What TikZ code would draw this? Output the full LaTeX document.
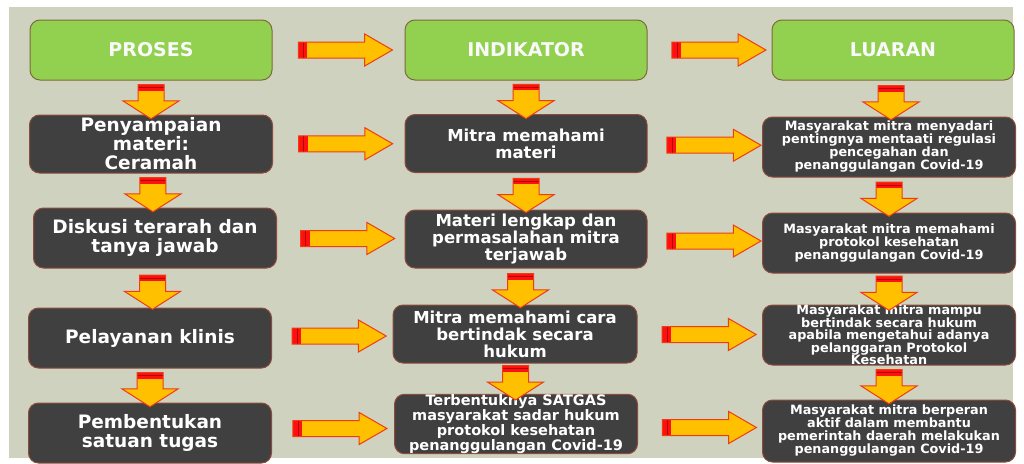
\documentclass[tikz,border=0pt]{standalone}
\usepackage{fontspec}
\setmainfont{DejaVu Sans}
\usetikzlibrary{shapes.arrows}

\definecolor{bgcol}{HTML}{CED2BE}
\definecolor{headgreen}{HTML}{92D050}
\definecolor{headline}{HTML}{7F6A3C}
\definecolor{boxgray}{HTML}{404040}
\definecolor{boxline}{HTML}{8E4B3B}
\definecolor{arrfill}{HTML}{FFC000}
\definecolor{arrline}{HTML}{F03C14}
\definecolor{arrtail}{HTML}{FF1010}

\tikzset{
	head/.style={draw=headline, line width=1pt, fill=headgreen, rounded corners=10pt,
		minimum width=242pt, minimum height=60pt, text=white!95!gray,
		font=\bfseries\fontsize{19}{21}\selectfont},
	box/.style={draw=boxline, line width=1pt, fill=boxgray, rounded corners=10pt,
		minimum height=58pt, text=white, align=center, inner sep=0pt},
	proc/.style={box, minimum width=243pt, font=\bfseries\fontsize{18.5}{19}\selectfont},
	indi/.style={box, minimum width=242pt, font=\bfseries\fontsize{16.5}{17}\selectfont},
	luar/.style={box, minimum width=253pt, minimum height=60pt, font=\bfseries\fontsize{12.8}{13}\selectfont},
	harrow/.style={single arrow, draw=arrline, line width=1pt, fill=arrfill,
		minimum height=94pt, inner sep=7.5pt, single arrow head extend=8pt,
		single arrow tip angle=60,
		path picture={
			\fill[arrtail] (path picture bounding box.north west) rectangle ([xshift=9pt]path picture bounding box.south west);
			\draw[red!70!black, line width=0.8pt] ([xshift=5pt]path picture bounding box.north west) -- ([xshift=5pt]path picture bounding box.south west);
		}},
	varrow/.style={single arrow, shape border rotate=270, draw=arrline, line width=1pt, fill=arrfill,
		minimum height=33pt, inner sep=12.5pt, single arrow head extend=15pt,
		single arrow tip angle=115,
		path picture={
			\fill[arrtail] (path picture bounding box.north west) rectangle ([yshift=-6pt]path picture bounding box.north east);
			\draw[red!70!black, line width=0.8pt] ([yshift=-3pt]path picture bounding box.north west) -- ([yshift=-3pt]path picture bounding box.north east);
		}},
}

\begin{document}
\begin{tikzpicture}[x=1pt,y=-1pt]
	\useasboundingbox (0,0) rectangle (1024,463);
	\fill[white] (0,0) rectangle (1024,463);
	\fill[bgcol] (9,7) rectangle (1013,458);

	% kolom proses
	\node[head] (p0) at (151,50) {PROSES};
	\node[proc] (p1) at (151,144) {Penyampaian\\materi:\\Ceramah};
	\node[proc, minimum height=60pt] (p2) at (155,238) {Diskusi terarah dan\\tanya jawab};
	\node[proc, minimum height=60pt] (p3) at (150,338) {Pelayanan klinis};
	\node[proc, minimum height=60pt] (p4) at (150,433) {Pembentukan\\satuan tugas};

	% kolom indikator
	\node[head] (i0) at (526,50) {INDIKATOR};
	\node[indi] (i1) at (526,143.5) {Mitra memahami\\materi};
	\node[indi] (i2) at (526,239) {Materi lengkap dan\\permasalahan  mitra\\terjawab};
	\node[indi, minimum width=244pt] (i3) at (515,334) {Mitra memahami  cara\\bertindak  secara\\hukum};
	\node[indi, minimum width=243pt, font=\bfseries\fontsize{14.5}{14}\selectfont] (i4) at (516,424)
		{Terbentuknya SATGAS\\masyarakat sadar hukum\\protokol kesehatan\\penanggulangan Covid-19};

	% kolom luaran
	\node[head] (l0) at (893,50) {LUARAN};
	\node[luar] (l1) at (889,147) {Masyarakat mitra menyadari\\pentingnya mentaati regulasi\\pencegahan dan\\penanggulangan Covid-19};
	\node[luar] (l2) at (889,243) {Masyarakat mitra memahami\\protokol  kesehatan\\penanggulangan Covid-19};
	\node[luar, font=\bfseries\fontsize{12.8}{12.5}\selectfont] (l3) at (889,335) {Masyarakat mitra mampu\\bertindak secara  hukum\\apabila mengetahui adanya\\pelanggaran Protokol\\Kesehatan};
	\node[luar, minimum height=62pt] (l4) at (889,431) {Masyarakat mitra berperan\\aktif dalam membantu\\pemerintah  daerah melakukan\\penanggulangan Covid-19};

	\foreach \r in {0,...,4} {
		\path (p\r) -- node[harrow] (pa\r) {} (i\r);
		\path (i\r) -- node[harrow, pos=0.52] (ia\r) {} (l\r);
	}
	\foreach \r [evaluate=\r as \s using int(\r+1)] in {0,...,3} {
		\path (p\r) -- node[varrow] (pv\r) {} (p\s);
		\path (i\r) -- node[varrow] (iv\r) {} (i\s);
		\path (l\r) -- node[varrow] (lv\r) {} (l\s);
	}
\end{tikzpicture}
\end{document}
